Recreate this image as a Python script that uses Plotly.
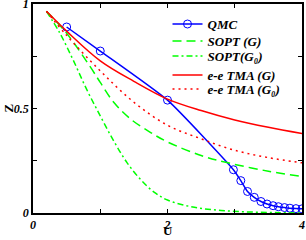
import plotly.graph_objects as go

# ---- data ----
qmc_u = [0.5, 1.0, 2.0, 2.98, 3.09, 3.19, 3.29, 3.39, 3.48, 3.57, 3.65, 3.74, 3.82, 3.91, 4.0]
qmc_z = [0.89, 0.775, 0.54, 0.207, 0.155, 0.103, 0.075, 0.055, 0.043, 0.035, 0.030, 0.026, 0.023, 0.021, 0.02]

sopt_g_u = [0.2, 0.5, 0.85, 1.0, 1.2, 1.45, 1.75, 2.0, 2.5, 2.9, 3.5, 4.0]
sopt_g_z = [0.965, 0.86, 0.70, 0.625, 0.53, 0.45, 0.385, 0.34, 0.275, 0.24, 0.2, 0.175]

sopt_g0_u = [0.2, 0.4, 0.6, 0.8, 1.0, 1.2, 1.4, 1.6, 1.8, 2.0, 2.4, 2.8, 3.2, 3.6, 4.0]
sopt_g0_z = [0.965, 0.86, 0.73, 0.59, 0.465, 0.345, 0.24, 0.16, 0.1, 0.062, 0.027, 0.012, 0.005, 0.002, 0.0]

tma_g_u = [0.2, 0.5, 1.0, 1.5, 2.0, 2.5, 3.0, 3.5, 4.0]
tma_g_z = [0.965, 0.87, 0.728, 0.63, 0.545, 0.49, 0.445, 0.41, 0.38]

tma_g0_u = [0.2, 0.5, 1.0, 1.5, 2.0, 2.5, 3.0, 3.5, 4.0]
tma_g0_z = [0.965, 0.85, 0.68, 0.53, 0.42, 0.355, 0.30, 0.265, 0.24]

x_ticks = [0, 1, 2, 3, 4]
x_labels = ["0", "", "2", "", "4"]
y_ticks = [0, 0.25, 0.5, 0.75, 1]
y_labels = ["0", "", "0.5", "", "1"]

series_names = ["QMC", "SOPT (G)", "SOPT(G\u2080)", "e-e TMA (G)", "e-e TMA (G\u2080)"]
legend_rows = [0.904, 0.823, 0.751, 0.660, 0.593]

BLUE = "#0000ff"
GREEN = "#00ff00"
RED = "#ff0000"
FONT = "Liberation Serif"

fig = go.Figure()
fig.add_trace(go.Scatter(x=qmc_u, y=qmc_z, mode="lines+markers", name=series_names[0], legend="legend",
                         line=dict(color=BLUE, width=1.5, shape="spline", smoothing=0.5),
                         marker=dict(symbol="circle-open", size=8, color=BLUE, line=dict(width=1))))
fig.add_trace(go.Scatter(x=sopt_g_u, y=sopt_g_z, mode="lines", name=series_names[1], legend="legend2",
                         line=dict(color=GREEN, width=1.5, dash="9px,5px", shape="spline")))
fig.add_trace(go.Scatter(x=sopt_g0_u, y=sopt_g0_z, mode="lines", name=series_names[2], legend="legend3",
                         line=dict(color=GREEN, width=1.5, dash="6px,3px,2px,3px", shape="spline")))
fig.add_trace(go.Scatter(x=tma_g_u, y=tma_g_z, mode="lines", name=series_names[3], legend="legend4",
                         line=dict(color=RED, width=1.5, shape="spline")))
fig.add_trace(go.Scatter(x=tma_g0_u, y=tma_g0_z, mode="lines", name=series_names[4], legend="legend5",
                         line=dict(color=RED, width=1.5, dash="2px,4px", shape="spline")))

tickfont = dict(family=FONT, size=12, color="black", weight="bold", style="italic")
axis_common = dict(showgrid=False, zeroline=False, showline=True, linecolor="black", linewidth=1.5,
                   mirror="ticks", ticks="inside", ticklen=4, tickcolor="black", tickwidth=1,
                   tickfont=tickfont, ticklabeloverflow="allow")

fig.update_xaxes(range=[0, 4], tickvals=x_ticks, ticktext=x_labels, **axis_common)
fig.update_yaxes(range=[0, 1], tickvals=y_ticks, ticktext=y_labels, **axis_common)

legend_font = dict(family=FONT, size=13, color="black", weight="bold", style="italic")
legends = {}
for i, yv in enumerate(legend_rows):
    key = "legend" if i == 0 else f"legend{i + 1}"
    legends[key] = dict(x=0.5, y=yv, xanchor="left", yanchor="middle",
                        bgcolor="rgba(0,0,0,0)", borderwidth=0, itemwidth=30,
                        font=legend_font)

fig.update_layout(
    width=306, height=240,
    margin=dict(l=33, r=4, t=4, b=27, autoexpand=False),
    plot_bgcolor="white", paper_bgcolor="white",
    showlegend=True,
    annotations=[
        dict(text="U", x=0.5, y=0, xref="paper", yref="paper", xanchor="center", yanchor="bottom",
             yshift=-27, showarrow=False, font=dict(family=FONT, size=13, color="black", weight="bold")),
        dict(text="Z", x=0, y=0.5, xref="paper", yref="paper", xanchor="center", yanchor="middle",
             xshift=-25, textangle=-90, showarrow=False,
             font=dict(family=FONT, size=13, color="black", weight="bold")),
    ],
    **legends,
)

fig.write_html("out.html", config={"displayModeBar": False},
               post_script="document.body.style.margin='0';document.body.style.padding='0';")
